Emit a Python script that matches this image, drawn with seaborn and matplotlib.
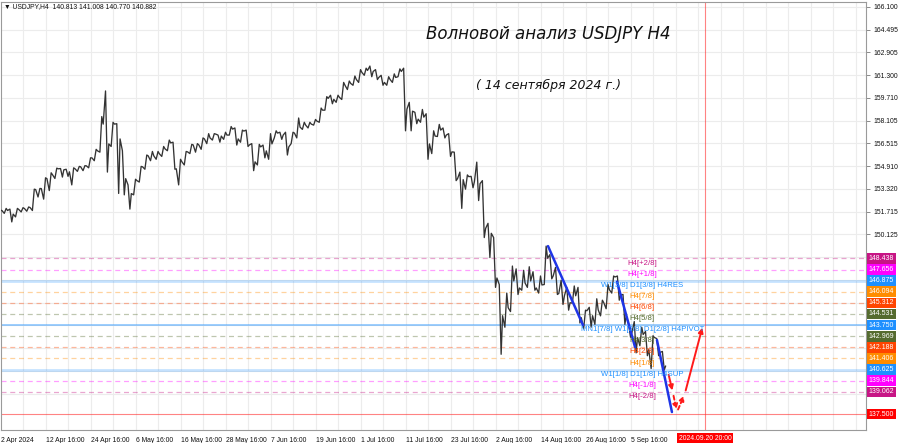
import numpy as np
import pandas as pd
import matplotlib
matplotlib.use('Agg')
import matplotlib.pyplot as plt
import matplotlib.transforms as mtransforms
import seaborn as sns

# daily close / high / low USDJPY (one value per trading day, 2 Apr .. 13 Sep 2024)
closes = [151.80, 151.80, 151.55, 151.87, 151.94, 152.01, 153.27, 153.34, 154.04, 154.31,
          154.73, 154.66, 154.52, 154.73, 154.87, 154.94, 155.50, 155.99, 157.87, 156.48,
          157.87, 156.83, 154.04, 152.99, 153.90, 154.87, 155.64, 155.64, 155.78, 156.13,
          156.55, 154.73, 155.22, 155.92, 156.41, 156.41, 156.83, 156.90, 157.17, 157.03,
          157.10, 157.52, 156.83, 157.38, 156.41, 155.22, 156.27, 155.99, 156.48, 157.24,
          157.10, 156.27, 157.24, 157.66, 157.80, 157.87, 158.08, 158.85, 159.68, 159.61,
          159.75, 160.59, 160.73, 161.01, 161.50, 161.64, 161.57, 161.15, 160.80, 161.01,
          161.15, 161.57, 158.92, 158.78, 158.22, 158.36, 156.48, 157.03, 157.45, 157.10,
          155.92, 154.04, 153.97, 154.18, 153.83, 153.69, 150.55, 150.20, 147.06, 144.41,
          144.97, 146.85, 146.36, 146.71, 146.85, 146.36, 146.57, 148.45, 147.20, 145.97,
          145.81, 145.32, 145.81, 144.27, 144.76, 144.41, 144.83, 145.32, 146.23, 147.13,
          145.88, 144.41, 143.23, 142.88, 143.09, 142.04, 142.88, 141.83, 140.88]
highs = [151.82, 151.95, 151.90, 151.95, 152.00, 152.05, 153.30, 153.35, 154.10, 154.45,
         154.78, 154.75, 154.70, 154.80, 154.90, 154.95, 155.50, 156.10, 158.40, 160.20,
         158.00, 157.90, 156.00, 153.60, 154.00, 154.90, 155.70, 155.95, 155.95, 156.30,
         156.75, 156.60, 155.40, 155.95, 156.45, 156.50, 156.90, 157.20, 157.20, 157.10,
         157.30, 157.70, 157.60, 157.45, 157.45, 156.50, 156.45, 156.40, 157.20, 157.40,
         157.30, 157.30, 157.30, 158.30, 158.00, 158.00, 158.20, 159.00, 159.80, 159.90,
         159.90, 160.80, 160.90, 161.25, 161.70, 161.80, 161.95, 161.70, 161.30, 161.20,
         161.40, 161.75, 161.80, 159.40, 158.70, 158.90, 158.60, 157.40, 157.85, 157.60,
         157.20, 155.90, 154.50, 154.30, 154.20, 155.20, 153.90, 150.90, 149.90, 146.60,
         146.00, 147.90, 147.70, 147.60, 147.85, 147.50, 147.20, 149.30, 148.70, 147.80,
         146.90, 146.40, 146.50, 146.40, 144.80, 145.00, 145.60, 145.50, 146.60, 147.20,
         147.20, 145.90, 143.80, 144.00, 143.60, 143.30, 143.00, 142.80, 141.90]
lows = [151.55, 151.60, 151.00, 151.35, 151.70, 151.75, 151.80, 152.75, 152.60, 153.20,
        154.05, 154.15, 154.20, 153.60, 154.55, 154.60, 154.80, 155.30, 155.90, 154.50,
        156.30, 153.00, 152.90, 151.90, 152.90, 153.80, 154.70, 155.30, 155.40, 155.60,
        156.00, 154.70, 153.60, 155.00, 155.80, 155.90, 156.10, 156.50, 156.75, 156.60,
        156.80, 157.10, 156.40, 156.60, 156.30, 154.60, 155.00, 155.50, 155.40, 156.90,
        156.80, 155.70, 156.50, 156.90, 157.50, 157.60, 157.80, 158.00, 158.85, 159.30,
        159.40, 159.60, 160.30, 160.60, 160.80, 161.30, 161.20, 161.00, 160.60, 160.60,
        160.80, 161.20, 157.40, 157.40, 157.90, 158.00, 155.40, 155.80, 157.00, 156.90,
        155.60, 153.90, 151.95, 153.30, 153.40, 152.50, 149.90, 148.50, 146.40, 141.70,
        143.60, 144.70, 145.90, 146.20, 146.40, 146.20, 146.00, 146.60, 147.00, 145.90,
        145.20, 144.80, 145.30, 143.90, 143.50, 143.60, 143.80, 144.40, 144.90, 146.00,
        145.50, 143.80, 142.90, 141.80, 142.30, 141.60, 140.70, 141.60, 140.60]

# x axis labels (bar index, 6 bars per day, bar 0 = 2 Apr 00:00)
tick_bars = [4, 52, 100, 148, 196, 244, 292, 340, 388, 436, 484, 532, 580, 628, 676]
tick_labels = ['2 Apr 2024', '12 Apr 16:00', '24 Apr 16:00', '6 May 16:00', '16 May 16:00',
               '28 May 16:00', '7 Jun 16:00', '19 Jun 16:00', '1 Jul 16:00', '11 Jul 16:00',
               '23 Jul 16:00', '2 Aug 16:00', '14 Aug 16:00', '26 Aug 16:00', '5 Sep 16:00']

# price scale (labelled part and the grid lines hidden behind the level boxes)
price_ticks = [166.100, 164.495, 162.905, 161.300, 159.710, 158.105, 156.515, 154.910,
               153.320, 151.715, 150.125]
price_grid_low = [148.520, 146.930, 145.325, 143.735, 142.130, 140.540, 138.935]

# Murrey levels
lvl_price = [148.438, 147.656, 146.875, 146.094, 145.312, 144.531, 143.750,
             142.969, 142.188, 141.406, 140.625, 139.844, 139.062]
lvl_name = ['H4[+2/8]', 'H4[+1/8]', 'W1[3/8] D1[3/8] H4RES', 'H4[7/8]', 'H4[6/8]', 'H4[5/8]',
            'MN1[7/8] W1[2/8] D1[2/8] H4PIVOT', 'H4[3/8]', 'H4[2/8]', 'H4[1/8]',
            'W1[1/8] D1[1/8] H4SUP', 'H4[-1/8]', 'H4[-2/8]']
lvl_color = ['#C71585', '#FF00FF', '#1E90FF', '#FF8C00', '#FF4500', '#556B2F', '#1E90FF',
             '#556B2F', '#FF4500', '#FF8C00', '#1E90FF', '#FF00FF', '#C71585']
target_price = 137.500
last_price = 140.882

# wave drawing (bar, price)
wave1_bar, wave1_px = [587.5, 624.8], [149.30, 143.75]
wave2_bar, wave2_px = [661.1, 680.3], [146.80, 142.21]
wave3_bar, wave3_px = [703.7, 719.7], [142.70, 137.64]
fc_bar = [715.5, 720.8, 725.1, 733.6, 752.8]
fc_px = [140.45, 138.97, 137.64, 138.97, 143.75]
cursor_bar = 755

# path through each day's low/high/close so the line keeps the candle range
rows = []
prev = closes[0]
for d, (c, h, l) in enumerate(zip(closes, highs, lows)):
    first, second = (l, h) if c >= prev else (h, l)
    rows += [(6 * d + 1.5, first), (6 * d + 3.5, second), (6 * d + 5, c)]
    prev = c
df = pd.DataFrame(rows, columns=['bar', 'price'])

sns.set_style('white')
plt.rcParams['font.family'] = ['Liberation Sans', 'DejaVu Sans']

fig = plt.figure(figsize=(9, 4.43), dpi=100)
ax = fig.add_axes([1 / 900, 13 / 443, 865 / 900, 428 / 443])
ax.set_xlim(4, 926.7)
ax.set_ylim(136.38, 166.45)

# grid
for b in np.arange(28, 927, 24):
    ax.axvline(b, color='#ececec', lw=0.8, zorder=0)
for p in price_ticks + price_grid_low:
    ax.axhline(p, color='#ececec', lw=0.8, zorder=0)

# levels
for p, c in zip(lvl_price, lvl_color):
    if c == '#1E90FF':
        if p == 143.750:
            ax.axhline(p, color=c, lw=1.1, alpha=0.55, zorder=1)
        else:
            ax.axhline(p, color=c, lw=2.0, alpha=0.25, zorder=1)
    else:
        ax.axhline(p, color=c, lw=0.9, alpha=0.38, ls=(0, (4, 3)), zorder=1)
ax.axhline(target_price, color='#ff3030', lw=0.8, alpha=0.6, zorder=1)
ax.axvline(cursor_bar, color='#ff3030', lw=0.8, alpha=0.6, zorder=1)

sns.lineplot(data=df, x='bar', y='price', color='#333333', lw=0.95, ax=ax, zorder=3,
             sort=False, estimator=None)

# level names
for p, n, c in zip(lvl_price, lvl_name, lvl_color):
    ax.text(688, p - 0.08, n, color=c, fontsize=5.6, ha='center', va='top', zorder=5)

# waves
for wb, wp in [(wave1_bar, wave1_px), (wave2_bar, wave2_px), (wave3_bar, wave3_px)]:
    ax.plot(wb, wp, color='#1f35e6', lw=1.8, zorder=4, solid_capstyle='round')
arrow_kw = dict(arrowstyle='-|>', color='#ff1a1a', lw=1.4, mutation_scale=7)
ax.annotate('', xy=(fc_bar[1], fc_px[1]), xytext=(fc_bar[0], fc_px[0]), arrowprops=arrow_kw, zorder=4)
ax.annotate('', xy=(fc_bar[2], fc_px[2]), xytext=(fc_bar[1], fc_px[1]),
            arrowprops=dict(arrow_kw, ls=(0, (2, 1.5))), zorder=4)
ax.annotate('', xy=(fc_bar[3], fc_px[3]), xytext=(fc_bar[2], fc_px[2]),
            arrowprops=dict(arrow_kw, ls=(0, (2, 1.5))), zorder=4)
ax.annotate('', xy=(fc_bar[4], fc_px[4]), xytext=(fc_bar[3], fc_px[3]), arrowprops=arrow_kw, zorder=4)

# axes look
ax.yaxis.tick_right()
ax.set_yticks(price_ticks)
ax.set_yticklabels(['%.3f' % p for p in price_ticks])
ax.set_xticks(tick_bars)
ax.set_xticklabels(tick_labels, ha='left')
ax.tick_params(axis='both', labelsize=4.9, length=3, width=0.6, color='#777777', pad=2,
               labelcolor='#111111')
ax.set_xlabel('')
ax.set_ylabel('')
for s in ax.spines.values():
    s.set_color('#9a9a9a')
    s.set_linewidth(0.8)

# right side price boxes
trans = mtransforms.blended_transform_factory(ax.transAxes, ax.transData)
box_kw = dict(transform=trans, fontsize=5.0, color='white', va='center', ha='left', clip_on=False)
ax.text(1.003, last_price, '%.3f' % last_price, zorder=6,
        bbox=dict(boxstyle='square,pad=0.26', fc='black', ec='none'), **box_kw)
for p, c in zip(lvl_price, lvl_color):
    ax.text(1.003, p, '%.3f' % p, zorder=7,
            bbox=dict(boxstyle='square,pad=0.26', fc=c, ec='none'), **box_kw)
ax.text(1.003, target_price, '%.3f' % target_price, zorder=7,
        bbox=dict(boxstyle='square,pad=0.26', fc='#ff0000', ec='none'), **box_kw)

# time cursor box
transx = mtransforms.blended_transform_factory(ax.transData, ax.transAxes)
ax.text(cursor_bar, -0.012, '2024.09.20 20:00', transform=transx, fontsize=4.9, color='white',
        ha='center', va='top', clip_on=False,
        bbox=dict(boxstyle='square,pad=0.25', fc='#ff0000', ec='none'))

# header and titles
fig.text(4 / 900, 1 - 7 / 443, '\u25bc USDJPY,H4  140.813 141.008 140.770 140.882',
         fontsize=4.9, va='center', ha='left', color='#111111')
fig.text(548 / 900, 1 - 34 / 443, 'Волновой анализ USDJPY H4', fontsize=12,
         family='DejaVu Sans', style='italic', ha='center', va='center', color='#111111')
fig.text(548 / 900, 1 - 85 / 443, '( 14 сентября 2024 г.)', fontsize=9,
         family='DejaVu Sans', style='italic', ha='center', va='center', color='#111111')

fig.savefig('out.png', dpi=100)
